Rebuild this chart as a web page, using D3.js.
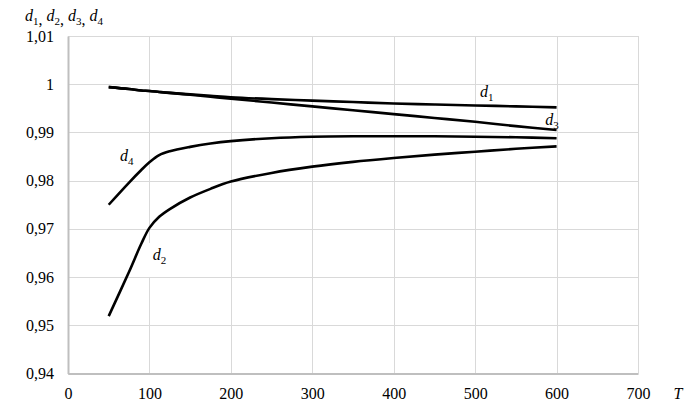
<!DOCTYPE html>
<html>
<head>
<meta charset="utf-8">
<script src="https://cdnjs.cloudflare.com/ajax/libs/d3/7.8.5/d3.min.js"></script>
<style>
    body { margin: 0; background: #fff; }
    svg { display: block; font-family: "Liberation Serif", "Times New Roman", serif; }
</style>
</head>
<body>
<svg width="692" height="418"></svg>
<script>
/*global d3*/

// temperature points where the curves were read
var T = [50, 75, 90, 100, 112, 125, 150, 175, 200, 250, 300, 350, 400, 450, 500, 550, 600];

var d1 = [0.9994, 0.9990, 0.9987, 0.9986, 0.9984, 0.9982, 0.9979, 0.9976, 0.9973, 0.9969, 0.9966, 0.9963, 0.9960, 0.9958, 0.9956, 0.9954, 0.9952];
var d2 = [0.9519, 0.9611, 0.9669, 0.9702, 0.9725, 0.9741, 0.9765, 0.9783, 0.9798, 0.9816, 0.9829, 0.9839, 0.9847, 0.9854, 0.9860, 0.9866, 0.9871];
var d3s = [0.9994, 0.9990, 0.9987, 0.9986, 0.9984, 0.9982, 0.9978, 0.9974, 0.9970, 0.9962, 0.9954, 0.9946, 0.9938, 0.9930, 0.9922, 0.9913, 0.9905];
var d4 = [0.9750, 0.9796, 0.9822, 0.9838, 0.9853, 0.9861, 0.9870, 0.9877, 0.9882, 0.9888, 0.9891, 0.9892, 0.9892, 0.9892, 0.9891, 0.9890, 0.9888];

var xTicks = [0, 100, 200, 300, 400, 500, 600, 700];
var yTicks = [0.94, 0.95, 0.96, 0.97, 0.98, 0.99, 1, 1.01];

// curve labels: name, subscript, T, value
var labels = [
    {name: "d", sub: "1", t: 506, v: 0.99737, box: false},
    {name: "d", sub: "3", t: 586, v: 0.99156, box: false},
    {name: "d", sub: "4", t: 64, v: 0.98415, box: false},
    {name: "d", sub: "2", t: 104, v: 0.96355, box: true}
];

var series = [d1, d2, d3s, d4];

var svg = d3.select("svg");

var x = d3.scaleLinear().domain([0, 700]).range([68, 638]);
var y = d3.scaleLinear().domain([0.94, 1.01]).range([373.5, 36]);

var fmt = function(v) {
    return d3.format(".2~f")(v).replace(".", ",");
};

// grid
svg.append("g")
    .selectAll("line")
    .data(yTicks)
    .enter().append("line")
    .attr("x1", x(0))
    .attr("x2", x(700))
    .attr("y1", function(d) { return Math.round(y(d)) + 0.5; })
    .attr("y2", function(d) { return Math.round(y(d)) + 0.5; })
    .attr("stroke", "#d9d9d9")
    .attr("stroke-width", 1);

svg.append("g")
    .selectAll("line")
    .data(xTicks)
    .enter().append("line")
    .attr("x1", function(d) { return Math.round(x(d)) + 0.5; })
    .attr("x2", function(d) { return Math.round(x(d)) + 0.5; })
    .attr("y1", y(0.94))
    .attr("y2", y(1.01))
    .attr("stroke", "#d9d9d9")
    .attr("stroke-width", 1);

// axes
var xAxis = svg.append("g")
    .attr("transform", "translate(0," + y(0.94) + ")")
    .call(d3.axisBottom(x).tickValues(xTicks).tickSize(0).tickPadding(14).tickFormat(d3.format("d")));
var yAxis = svg.append("g")
    .attr("transform", "translate(" + x(0) + ",0)")
    .call(d3.axisLeft(y).tickValues(yTicks).tickSize(0).tickPadding(14).tickFormat(fmt));

[xAxis, yAxis].forEach(function(a) {
    a.attr("font-family", null);
    a.select(".domain").attr("stroke", "#bfbfbf").attr("stroke-width", 2);
    a.selectAll("text")
        .attr("fill", "#000")
        .style("font-family", "'Liberation Serif', serif")
        .style("font-size", "16px");
});

// curves
var line = d3.line()
    .x(function(d, i) { return x(T[i]); })
    .y(function(d) { return y(d); })
    .curve(d3.curveCatmullRom.alpha(0.5));

svg.append("g")
    .selectAll("path")
    .data(series)
    .enter().append("path")
    .attr("d", line)
    .attr("fill", "none")
    .attr("stroke", "#000")
    .attr("stroke-width", 2.6);

// labels
var lab = svg.append("g")
    .selectAll("g")
    .data(labels)
    .enter().append("g")
    .attr("transform", function(d) { return "translate(" + x(d.t) + "," + y(d.v) + ")"; });

lab.filter(function(d) { return d.box; })
    .append("rect")
    .attr("x", -9)
    .attr("y", -17)
    .attr("width", 30)
    .attr("height", 34)
    .attr("fill", "#fff");

var lt = lab.append("text")
    .attr("fill", "#000")
    .style("font-size", "16px");
lt.append("tspan").style("font-style", "italic").text(function(d) { return d.name; });
lt.append("tspan").attr("dy", 4).style("font-size", "11px").text(function(d) { return d.sub; });

// axis titles
var yt = svg.append("text")
    .attr("x", 25)
    .attr("y", 21)
    .attr("fill", "#000")
    .style("font-size", "16px");
["1", "2", "3", "4"].forEach(function(s, i) {
    yt.append("tspan").attr("dy", i === 0 ? 0 : -4).style("font-style", "italic").text("d");
    yt.append("tspan").attr("dy", 4).style("font-size", "11px").text(s);
    if (i < 3) yt.append("tspan").text(", ");
});

svg.append("text")
    .attr("x", 678)
    .attr("y", 399)
    .attr("text-anchor", "middle")
    .attr("fill", "#000")
    .style("font-size", "16px")
    .style("font-style", "italic")
    .text("T");
</script>
</body>
</html>
